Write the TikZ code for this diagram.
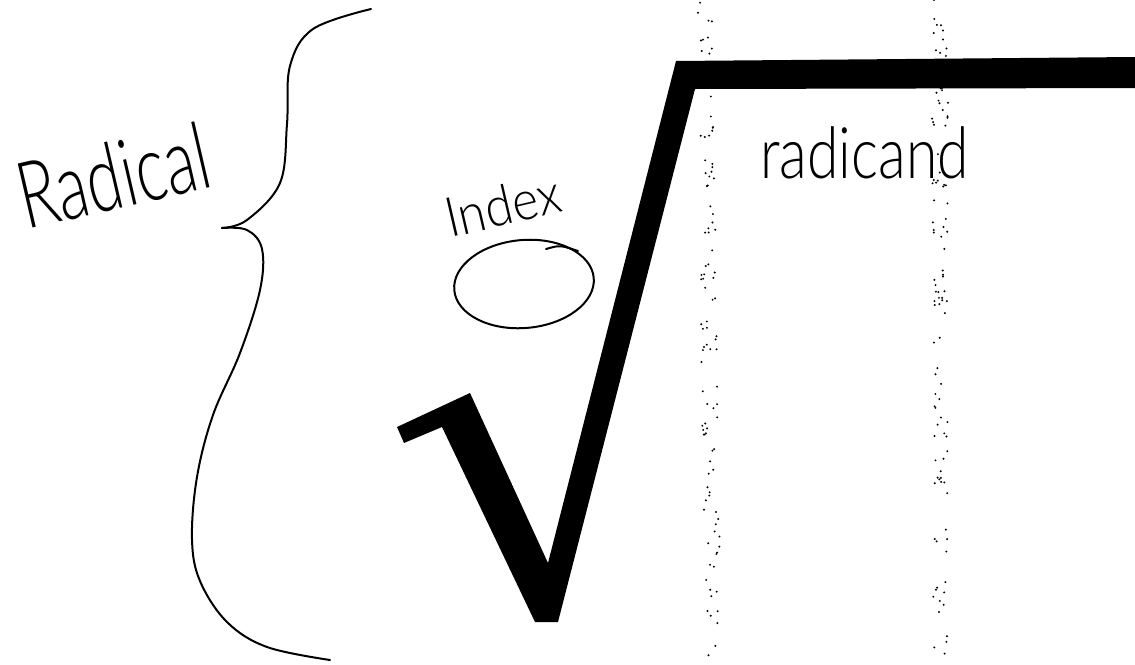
\documentclass[tikz,border=0pt]{standalone}
\usepackage{fontspec}
\usetikzlibrary{shapes.geometric}
\newfontfamily\handfont{Lato Light}
\begin{document}
\begin{tikzpicture}[x=1pt,y=-1pt,
  pen/.style={line width=2pt,line cap=round,line join=round,black},
  hand/.style={inner sep=0pt,font=\handfont},
  speck/.style={fill=black}]
\useasboundingbox (0,0) rectangle (1135,664);
\fill[white] (0,0) rectangle (1135,664);
% scanner speckle stripes
\pgfmathsetseed{7}
\foreach \i in {1,...,110}{
  \pgfmathsetmacro\yy{rnd*664}
  \pgfmathsetmacro\xx{705+0.012*\yy+(rnd-0.5)*16}
  \fill[speck] (\xx,\yy) circle (1.1);
  \pgfmathsetmacro\yb{rnd*664}
  \pgfmathsetmacro\xb{940+(rnd-0.5)*16}
  \fill[speck] (\xb,\yb) circle (1.1);
}
% radical sign
\fill[black] (397,427) -- (470,393) -- (548,563) -- (676,61) -- (1135,57)
  -- (1135,88) -- (695,89) -- (558,622) -- (535,622) -- (442,427)
  -- (404,443) -- cycle;
% brace
\draw[pen] plot[smooth,tension=0.6] coordinates {(371,9) (313,29) (290,66)
  (287,124) (280,183) (247,220) (222,228)};
\draw[pen] plot[smooth,tension=0.6] coordinates {(222,228) (247,230) (262,249)
  (260,290) (240,353) (213,415) (197,477) (192,539) (200,581) (227,622)
  (267,647) (330,660)};
% labels
\node[hand,anchor=base west,rotate=13,yscale=1.45,font=\handfont\fontsize{64}{64}\selectfont]
  (radical) at (26,230) {Radical};
\node[hand,anchor=base west,rotate=13,yscale=1.1,font=\handfont\fontsize{50}{50}\selectfont]
  (index) at (450,238) {Index};
\node[hand,anchor=base west,yscale=1.25,font=\handfont\fontsize{57}{57}\selectfont]
  (radicand) at (760,178) {radicand};
% index oval
\node[pen,draw,ellipse,minimum width=140pt,minimum height=88pt,rotate=5,inner sep=0pt]
  (oval) at (524,284) {};
\coordinate (tailA) at (546,249);
\coordinate (tailB) at (578,251);
\draw[pen] (tailA) .. controls (560,245) .. (tailB);
\end{tikzpicture}
\end{document}
